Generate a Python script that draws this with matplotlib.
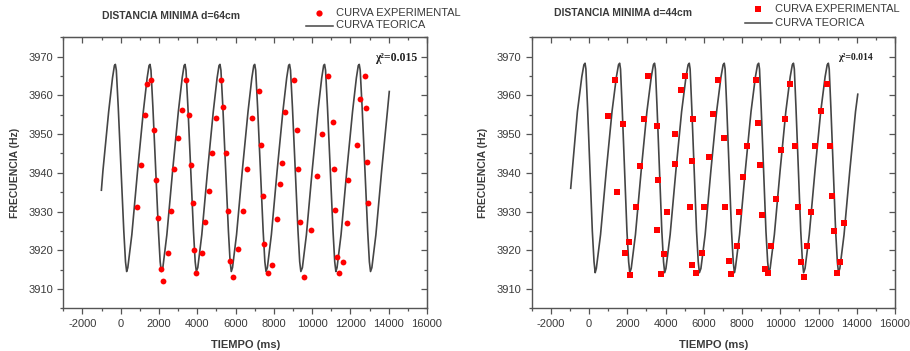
import matplotlib
matplotlib.use("Agg")
import matplotlib.pyplot as plt
from matplotlib.ticker import MultipleLocator
from matplotlib.lines import Line2D

plt.rcParams['font.family'] = ['Liberation Sans', 'DejaVu Sans']
plt.rcParams['axes.unicode_minus'] = False

# ---------------- Left panel: d = 64 cm ----------------
title_left = "DISTANCIA MINIMA d=64cm"
chi_left = "χ²=0.015"

exp_t_left = [1389, 1580, 1267, 1736, 1042, 1823, 851, 1927, 2083, 2448, 2222,
              3177, 3403, 3559, 2969, 2778, 3646, 3784, 2604, 3854, 4236, 3941,
              5225, 5364, 4982, 4757, 5486, 4600, 4409, 5607, 6111, 5711, 5850,
              6388, 6597,
              6839, 7240, 7327, 7431, 7501, 7901, 7710, 8145, 8337, 8406, 8598,
              9050, 9225, 9277, 9364, 9938, 9590, 10269, 10513, 10844, 11070,
              11140, 11192, 11279, 11418, 11627, 11836, 11888, 12358, 12498,
              12741, 12793, 12863, 12915]
exp_f_left = [3963.0, 3964.0, 3955.0, 3951.1, 3942.1, 3938.1, 3931.1, 3928.2, 3915.2, 3919.2, 3912.1,
              3956.1, 3964.0, 3955.0, 3949.0, 3941.0, 3942.1, 3932.1, 3930.1, 3920.0, 3919.2, 3914.1,
              3964.0, 3957.1, 3954.1, 3945.1, 3945.1, 3935.2, 3927.2, 3930.1, 3920.2, 3917.1, 3913.2,
              3930.1, 3941.0,
              3954.1, 3961.0, 3947.1, 3934.0, 3921.6, 3916.2, 3914.1, 3928.1, 3937.1, 3942.5, 3955.6,
              3964.0, 3951.0, 3941.0, 3927.3, 3925.2, 3913.2, 3939.1, 3950.1, 3965.1, 3953.1,
              3941.0, 3930.3, 3918.2, 3914.1, 3917.0, 3927.1, 3938.1, 3947.1, 3959.1,
              3965.1, 3956.7, 3942.9, 3932.2]

theo_t_left = [-1010, -930, -630, -430, -330, -280, -230, -130, 160, 250, 310,
               370, 580, 880, 1180, 1380, 1480, 1530, 1580, 1680, 1970, 2060, 2120,
               2200, 2410, 2710, 3010, 3210, 3310, 3360, 3410, 3510, 3800, 3890, 3950,
               4025, 4235, 4535, 4835, 5035, 5135, 5185, 5235, 5335, 5625, 5715, 5775,
               5840, 6050, 6350, 6650, 6850, 6950, 7000, 7050, 7150, 7440, 7530, 7590,
               7660, 7870, 8170, 8470, 8670, 8770, 8820, 8870, 8970, 9260, 9350, 9410,
               9490, 9700, 10000, 10300, 10500, 10600, 10650, 10700, 10800, 11090, 11180, 11240,
               11300, 11510, 11810, 12110, 12310, 12410, 12460, 12510, 12610, 12900, 12990, 13050,
               13120, 13330, 13630, 13930, 14030]
theo_f_left = [3935.5, 3940.5, 3955.8, 3964.5, 3967.7, 3968.0, 3966.5, 3957.0, 3925.0, 3917.0, 3914.5,
               3915.5, 3924.0, 3940.5, 3955.8, 3964.5, 3967.7, 3968.0, 3966.5, 3957.0, 3925.0, 3917.0, 3914.5,
               3915.5, 3924.0, 3940.5, 3955.8, 3964.5, 3967.7, 3968.0, 3966.5, 3957.0, 3925.0, 3917.0, 3914.5,
               3915.5, 3924.0, 3940.5, 3955.8, 3964.5, 3967.7, 3968.0, 3966.5, 3957.0, 3925.0, 3917.0, 3914.5,
               3915.5, 3924.0, 3940.5, 3955.8, 3964.5, 3967.7, 3968.0, 3966.5, 3957.0, 3925.0, 3917.0, 3914.5,
               3915.5, 3924.0, 3940.5, 3955.8, 3964.5, 3967.7, 3968.0, 3966.5, 3957.0, 3925.0, 3917.0, 3914.5,
               3915.5, 3924.0, 3940.5, 3955.8, 3964.5, 3967.7, 3968.0, 3966.5, 3957.0, 3925.0, 3917.0, 3914.5,
               3915.5, 3924.0, 3940.5, 3955.8, 3964.5, 3967.7, 3968.0, 3966.5, 3957.0, 3925.0, 3917.0, 3914.5,
               3915.5, 3924.0, 3940.5, 3955.8, 3961.0]

# ---------------- Right panel: d = 44 cm ----------------
title_right = "DISTANCIA MINIMA d=44cm"
chi_right = "χ²=0.014"

exp_t_right = [991, 1356, 1756, 1478, 2104, 1896, 2122, 2435, 2643, 2852, 3061,
               3530, 3600, 4052, 3530, 3913, 3756, 4469, 4469, 4834, 5043, 5460,
               5408, 5304, 6017, 5895, 5408, 5600, 6278,
               6731, 6484, 7045, 7115, 7341, 7445, 7758, 7828, 8053, 8280, 8715,
               8836, 8958, 9045, 9219, 9340, 9532, 9776, 10020, 10228, 10489,
               10785, 10923, 11080, 11254, 11411, 11619, 11828, 12124, 12437,
               12611, 12715, 12819, 12958, 13132, 13341]
exp_f_right = [3954.7, 3963.9, 3952.7, 3935.0, 3922.0, 3919.3, 3913.5, 3931.1, 3941.7, 3953.9, 3964.9,
               3952.1, 3938.2, 3930.0, 3925.2, 3919.0, 3913.8, 3950.1, 3942.2, 3961.3, 3964.9, 3953.9,
               3943.0, 3931.1, 3931.1, 3919.4, 3916.2, 3914.1, 3944.2,
               3964.0, 3955.2, 3949.0, 3931.1, 3917.2, 3913.8, 3921.0, 3930.0, 3939.0, 3947.0, 3964.0,
               3952.9, 3942.1, 3929.1, 3915.1, 3914.1, 3921.2, 3933.2, 3946.0, 3954.0, 3963.0,
               3947.0, 3931.1, 3917.0, 3913.1, 3921.2, 3930.0, 3947.0, 3956.0, 3963.0,
               3947.0, 3933.9, 3925.0, 3914.1, 3917.0, 3927.1]

theo_t_right = [-960, -610, -380, -270, -210, -165, -80, 170, 260, 320,
                380, 600, 900, 1200, 1430, 1540, 1600, 1645, 1730, 1980, 2070, 2130,
                2205, 2425, 2725, 3025, 3255, 3365, 3425, 3470, 3555, 3805, 3895, 3955,
                4020, 4240, 4540, 4840, 5070, 5180, 5240, 5285, 5370, 5620, 5710, 5770,
                5850, 6070, 6370, 6670, 6900, 7010, 7070, 7115, 7200, 7450, 7540, 7600,
                7650, 7870, 8170, 8470, 8700, 8810, 8870, 8915, 9000, 9250, 9340, 9400,
                9470, 9690, 9990, 10290, 10520, 10630, 10690, 10735, 10820, 11070, 11160, 11220,
                11295, 11515, 11815, 12115, 12345, 12455, 12515, 12560, 12645, 12895, 12985, 13045,
                13115, 13335, 13635, 13935, 14053]
theo_f_right = [3936.0, 3955.8, 3964.8, 3967.9, 3968.3, 3966.8, 3957.0, 3925.0, 3917.0, 3914.2,
                3915.3, 3924.0, 3940.5, 3955.8, 3964.8, 3967.9, 3968.3, 3966.8, 3957.0, 3925.0, 3917.0, 3914.2,
                3915.3, 3924.0, 3940.5, 3955.8, 3964.8, 3967.9, 3968.3, 3966.8, 3957.0, 3925.0, 3917.0, 3914.2,
                3915.3, 3924.0, 3940.5, 3955.8, 3964.8, 3967.9, 3968.3, 3966.8, 3957.0, 3925.0, 3917.0, 3914.2,
                3915.3, 3924.0, 3940.5, 3955.8, 3964.8, 3967.9, 3968.3, 3966.8, 3957.0, 3925.0, 3917.0, 3914.2,
                3915.3, 3924.0, 3940.5, 3955.8, 3964.8, 3967.9, 3968.3, 3966.8, 3957.0, 3925.0, 3917.0, 3914.2,
                3915.3, 3924.0, 3940.5, 3955.8, 3964.8, 3967.9, 3968.3, 3966.8, 3957.0, 3925.0, 3917.0, 3914.2,
                3915.3, 3924.0, 3940.5, 3955.8, 3964.8, 3967.9, 3968.3, 3966.8, 3957.0, 3925.0, 3917.0, 3914.2,
                3915.3, 3924.0, 3940.5, 3955.8, 3960.3]

x_label = "TIEMPO (ms)"
y_label = "FRECUENCIA (Hz)"
leg_exp = "CURVA EXPERIMENTAL"
leg_theo = "CURVA TEORICA"

TXT = "#3a3a3a"
LINE = "#454545"
RED = "#ff0000"

fig = plt.figure(figsize=(9.10, 3.51), dpi=100)
fig.patch.set_facecolor("white")

W, H = 910.0, 351.0


def setup(ax):
    ax.set_xlim(-3000, 16000)
    ax.set_ylim(3905, 3975)
    ax.xaxis.set_major_locator(MultipleLocator(2000))
    ax.xaxis.set_minor_locator(MultipleLocator(1000))
    ax.yaxis.set_major_locator(MultipleLocator(10))
    ax.yaxis.set_minor_locator(MultipleLocator(5))
    ax.tick_params(which="both", direction="out", colors="#555555", labelcolor=TXT,
                   labelsize=8, width=0.9)
    ax.tick_params(which="major", length=4)
    ax.tick_params(which="minor", length=2.5)
    ax.tick_params(which="both", top=False, right=False)
    for s in ax.spines.values():
        s.set_color("#555555")
        s.set_linewidth(1.0)
    # mirrored inward ticks on top and right
    sec_x = ax.secondary_xaxis("top")
    sec_x.xaxis.set_major_locator(MultipleLocator(2000))
    sec_x.xaxis.set_minor_locator(MultipleLocator(1000))
    sec_x.tick_params(which="both", direction="in", colors="#555555", labeltop=False, width=0.9)
    sec_x.tick_params(which="major", length=4)
    sec_x.tick_params(which="minor", length=2.5)
    sec_x.spines["top"].set_color("#555555")
    sec_y = ax.secondary_yaxis("right")
    sec_y.yaxis.set_major_locator(MultipleLocator(10))
    sec_y.yaxis.set_minor_locator(MultipleLocator(5))
    sec_y.tick_params(which="both", direction="in", colors="#555555", labelright=False, width=0.9)
    sec_y.tick_params(which="major", length=4)
    sec_y.tick_params(which="minor", length=2.5)
    sec_y.spines["right"].set_color("#555555")
    ax.set_xlabel(x_label, fontsize=8, fontweight="bold", color=TXT, labelpad=8)
    ax.set_ylabel(y_label, fontsize=7.5, fontweight="bold", color=TXT, labelpad=6)


# Left
axL = fig.add_axes([63.3 / W, 1 - 308.3 / H, (427 - 63.3) / W, (308.3 - 37.3) / H])
setup(axL)
axL.plot(theo_t_left, theo_f_left, color=LINE, lw=1.2, zorder=2)
axL.plot(exp_t_left, exp_f_left, linestyle="none", marker="o", ms=4.2, color=RED,
         markeredgewidth=0, zorder=3)
fig.text(417 / W, 1 - 58 / H, chi_left, ha="right", va="center",
         fontsize=8.5, fontweight="bold", family=["Liberation Serif", "DejaVu Serif"], color="#222222")
fig.text(171 / W, 1 - 16 / H, title_left, ha="center", va="center", fontsize=7.5,
         fontweight="bold", color=TXT)

# Right
axR = fig.add_axes([531.7 / W, 1 - 308.3 / H, (895 - 531.7) / W, (308.3 - 37.3) / H])
setup(axR)
axR.plot(theo_t_right, theo_f_right, color=LINE, lw=1.2, zorder=2)
axR.plot(exp_t_right, exp_f_right, linestyle="none", marker="s", ms=3.8, color=RED,
         markeredgewidth=0, zorder=3)
fig.text(873 / W, 1 - 57 / H, chi_right, ha="right", va="center",
         fontsize=7, fontweight="bold", family=["Liberation Serif", "DejaVu Serif"], color="#222222")
fig.text(623 / W, 1 - 12.5 / H, title_right, ha="center", va="center", fontsize=7.5,
         fontweight="bold", color=TXT)


# Legends (manual, outside the axes at the top right)
def legend(xm, ym_exp, ym_theo, xl0, xl1, xtext, marker, ms):
    fig.add_artist(Line2D([xm / W], [1 - ym_exp / H], transform=fig.transFigure,
                          marker=marker, ms=ms, color=RED, markeredgewidth=0, linestyle="none"))
    fig.text(xtext / W, 1 - ym_exp / H, leg_exp, ha="left", va="center", fontsize=8, color=TXT)
    fig.add_artist(Line2D([xl0 / W, xl1 / W], [1 - ym_theo / H] * 2, transform=fig.transFigure,
                          color=LINE, lw=1.1))
    fig.text(xtext / W, 1 - ym_theo / H, leg_theo, ha="left", va="center", fontsize=8, color=TXT)


legend(319, 12.5, 25.5, 306, 333, 336, "o", 4.5)
legend(758, 9, 23, 745, 772, 775, "s", 4.0)

fig.savefig("out.png", dpi=100, facecolor="white")
